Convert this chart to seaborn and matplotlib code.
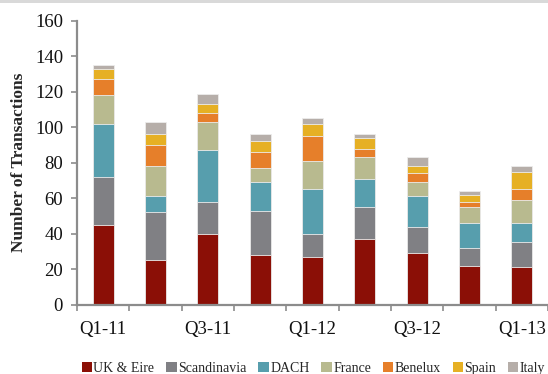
import matplotlib
matplotlib.use("Agg")
import matplotlib.pyplot as plt
from matplotlib.patches import Patch, Rectangle
import numpy as np
import pandas as pd
import seaborn as sns

quarters = ["Q1-11", "Q2-11", "Q3-11", "Q4-11", "Q1-12", "Q2-12", "Q3-12", "Q4-12", "Q1-13"]
uk_eire     = [45, 25, 40, 28, 27, 37, 29, 22, 21]
scandinavia = [27, 27, 18, 25, 13, 18, 15, 10, 14]
dach        = [30,  9, 29, 16, 25, 16, 17, 14, 11]
france      = [16, 17, 16,  8, 16, 12,  8,  9, 13]
benelux     = [ 9, 12,  5,  9, 14,  5,  5,  3,  6]
spain       = [ 6,  6,  5,  6,  7,  6,  4,  4, 10]
italy       = [ 2,  7,  6,  4,  3,  2,  5,  2,  3]

regions = ["UK & Eire", "Scandinavia", "DACH", "France", "Benelux", "Spain", "Italy"]
series = [uk_eire, scandinavia, dach, france, benelux, spain, italy]
colors = ["#8B0F06", "#808084", "#579EAD", "#B8BA8F", "#E67F2A", "#E6B024", "#B6AEA9"]
shown_labels = {"Q1-11", "Q3-11", "Q1-12", "Q3-12", "Q1-13"}

sns.set_theme(style="white")
plt.rcParams["font.family"] = ["Liberation Serif", "DejaVu Serif"]

df = pd.DataFrame(dict(zip(regions, series)), index=quarters)
cum = df.cumsum(axis=1)

fig = plt.figure(figsize=(5.48, 3.74), dpi=100)
ax = fig.add_axes([0.1405, 0.1858, 0.8595, 0.7581])

# Stack by drawing cumulative totals from the top layer down
for region, color in zip(reversed(regions), reversed(colors)):
    sns.barplot(x=cum.index, y=cum[region].values, color=color, width=0.4,
                edgecolor="#ececec", linewidth=0.6, saturation=1, ax=ax)

ax.set_ylim(0, 160)
ax.set_xlim(-0.5, len(quarters) - 0.5)
ax.set_yticks(np.arange(0, 161, 20))
ax.set_ylabel("Number of Transactions", fontsize=12.5, fontweight="bold", labelpad=6)
ax.set_xlabel("")

ax.set_xticks(range(len(quarters)))
ax.set_xticklabels([q if q in shown_labels else "" for q in quarters])
ax.set_xticks(np.arange(-0.5, len(quarters), 1.0), minor=True)
ax.tick_params(axis="x", which="major", length=0, pad=12, labelsize=13.5, colors="#111111")
ax.tick_params(axis="x", which="minor", length=4, width=1.2, color="#8c8c8c", direction="out", bottom=True)
ax.tick_params(axis="y", which="major", length=4, width=1.2, color="#8c8c8c", direction="out",
               left=True, labelsize=13.5, pad=6, colors="#111111")

for side in ("top", "right"):
    ax.spines[side].set_visible(False)
for side in ("left", "bottom"):
    ax.spines[side].set_color("#8c8c8c")
    ax.spines[side].set_linewidth(1.6)

handles = [Patch(facecolor=c, edgecolor="none") for c in colors]
fig.legend(handles, regions, loc="lower center", bbox_to_anchor=(0.572, -0.035), ncol=7,
           frameon=False, fontsize=10, handlelength=0.75, handleheight=0.75,
           handletextpad=0.1, columnspacing=0.85)

fig.patches.append(Rectangle((0, 0.993), 1, 0.007, transform=fig.transFigure,
                             facecolor="#d9d9d9", edgecolor="none"))

fig.savefig("out.png", dpi=100)
